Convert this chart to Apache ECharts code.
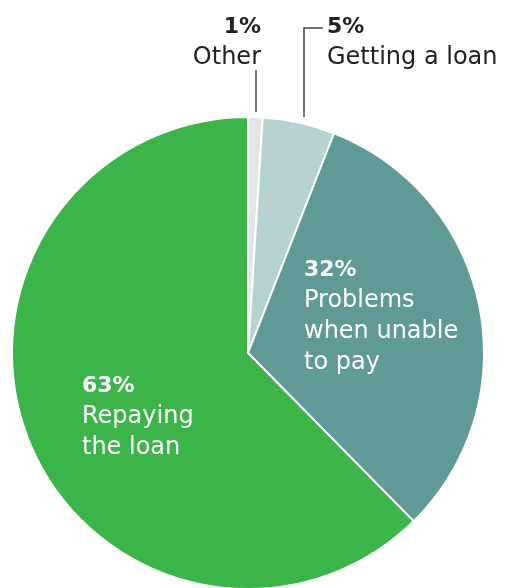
<!DOCTYPE html>
<html><head><meta charset="utf-8">
<style>html,body{margin:0;padding:0;background:#fff;}#c{width:508px;height:588px;}</style>
<script src="https://cdn.jsdelivr.net/npm/echarts@6/dist/echarts.min.js"></script>
</head><body><div id="c"></div>
<script>
var categories = ['Other', 'Getting a loan', 'Problems\nwhen unable\nto pay', 'Repaying\nthe loan'];
var values = [1, 5, 32, 63];
var colors = ['#e4e4e2', '#b6d3d1', '#5f9a97', '#3bb54a'];

var chart = echarts.init(document.getElementById('c'));
var FONT = '"DejaVu Sans", sans-serif';
function rich(col) {
  return {
    p: {fontFamily: FONT, fontWeight: 'bold', fontSize: 22, lineHeight: 30, color: col},
    n: {fontFamily: FONT, fontSize: 24, lineHeight: 31, color: col}
  };
}
var labelPos = [
  {x: 261, y: 12, align: 'right', line: [[256, 112], [256, 90], [256, 70]]},
  {x: 327, y: 12, align: 'left', line: [[304, 117], [304, 28], [323, 28]]},
  {x: 304, y: 255, align: 'left'},
  {x: 82, y: 371, align: 'left'}
];
var data = categories.map(function (c, i) {
  var inside = i >= 2;
  return {
    name: c, value: values[i],
    itemStyle: {color: colors[i]},
    label: {
      position: inside ? 'inside' : 'outside',
      formatter: function (p) { return '{p|' + p.value + '%}\n{n|' + p.name.split('\n').join('}\n{n|') + '}'; },
      rich: rich(inside ? '#ffffff' : '#222222'),
      align: 'left',
      overflow: 'none'
    },
    labelLine: {show: !inside, lineStyle: {color: '#444', width: 1.5}}
  };
});
chart.setOption({
  animation: false,
  series: [{
    type: 'pie',
    center: [248, 353],
    radius: 236,
    startAngle: 90,
    clockwise: true,
    itemStyle: {borderColor: '#fff', borderWidth: 2},
    label: {show: true, overflow: 'none'},
    labelLayout: function (params) {
      var l = labelPos[params.dataIndex];
      var r = {x: l.x, y: l.y, align: l.align, verticalAlign: 'top'};
      if (l.line) r.labelLinePoints = l.line;
      return r;
    },
    data: data
  }]
});
</script></body></html>
